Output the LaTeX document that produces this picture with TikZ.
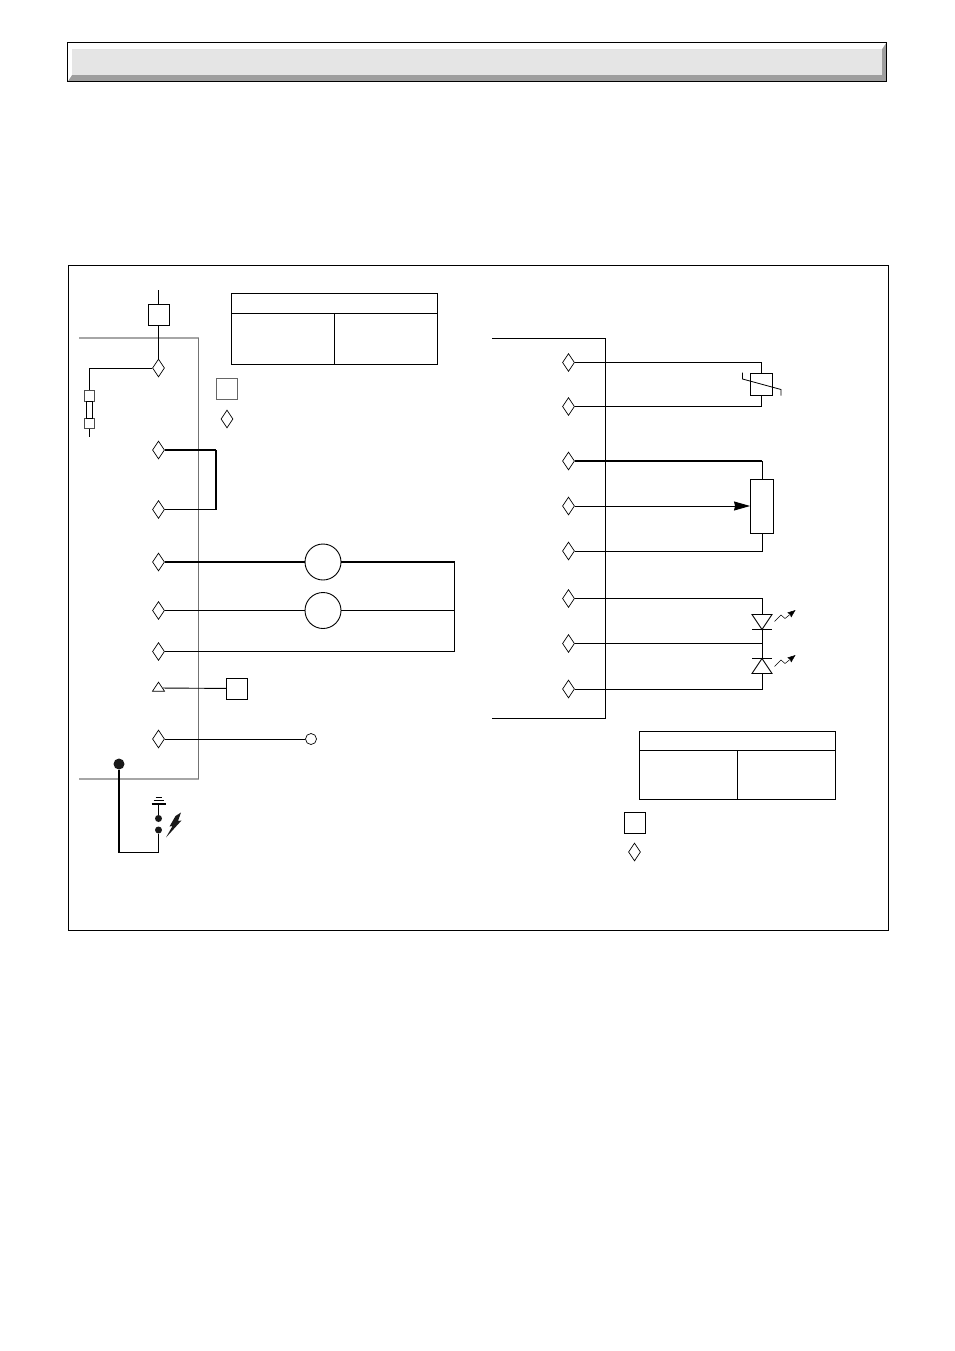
\documentclass[tikz,border=0pt]{standalone}
\usepackage{tikz}
\usetikzlibrary{arrows.meta,shapes,shapes.geometric}
\usetikzlibrary{calc}
\tikzstyle{pin}=[diamond,draw,aspect=0.67,minimum width=12pt,minimum height=18pt,inner sep=0pt,line width=0.7pt]
\tikzstyle{tinybox}=[rectangle,draw,minimum width=21pt,minimum height=21pt,inner sep=0pt,line width=0.8pt]
\tikzstyle{fusecap}=[rectangle,draw,minimum width=10.5pt,minimum height=10.5pt,inner sep=0pt,line width=0.7pt,black!70]
\tikzstyle{motor}=[circle,draw,minimum size=36pt,inner sep=0pt,line width=0.9pt]
\tikzstyle{dot}=[circle,fill=black!90,minimum size=7pt,inner sep=0pt]
\tikzstyle{wire}=[draw,line width=0.9pt]
\tikzstyle{heavywire}=[draw,line width=1.7pt]
\tikzstyle{cell}=[rectangle,draw,inner sep=0pt,line width=0.9pt]
\tikzstyle{module} = [draw,black!55,line width=1pt]

\begin{document}
\begin{tikzpicture}[x=1pt,y=-1pt]
    \useasboundingbox (0,0) rectangle (954,1351);

    % title bar
    \fill[black!38] (68,43) rectangle (886,81);
    \fill[white] (68,43) -- (886,43) -- (882,49) -- (72,49) -- (72,75) -- (68,81) -- cycle;
    \fill[black!10] (72,49) rectangle (882,75);
    \draw[line width=1pt] (67.5,43) rectangle (886.5,81.5);

    % outer frame
    \draw[line width=0.9pt] (68.5,265.5) rectangle (888.5,930.5);

    % left module outline
    \coordinate (lt) at (79,338);
    \coordinate (lc) at (198.5,338);
    \coordinate (ld) at (198.5,779);
    \coordinate (lb) at (79,779);
    \draw[black!35,line width=1.5pt] (lt) -- (lc);
    \draw[black!35,line width=1.5pt] (ld) -- (lb);
    \path[module] (lc) -- (ld);

    % right module outline
    \coordinate (rt) at (492,338);
    \coordinate (rc) at (605.5,338);
    \coordinate (rd) at (605.5,718);
    \coordinate (rb) at (492,718);
    \path[wire] (rt) -- (rc) -- (rd) -- (rb);

    % connector pins
    \foreach \pos/ \name in {{(158.5,368)/l1},{(158.5,450)/l2},{(158.5,509.5)/l3},{(158.5,562)/l4},{(158.5,610.5)/l5},{(158.5,651.5)/l6},{(158.5,739)/l7},{(227,419)/ka}}
        \node[pin,fill=white] (\name) at \pos {};
    \foreach \pos/ \name in {{(568.5,362.5)/r1},{(568.5,406.5)/r2},{(568.5,461)/r3},{(568.5,506)/r4},{(568.5,551)/r5},{(568.5,598.5)/r6},{(568.5,643.5)/r7},{(568.5,689)/r8},{(634.5,852)/kb}}
        \node[pin,fill=white] (\name) at \pos {};
    \node[isosceles triangle,isosceles triangle stretches,shape border rotate=90,draw,line width=0.7pt,minimum width=12pt,minimum height=9pt,inner sep=0pt] (l8) at (158.5,688) {};

    % small boxes
    \node[tinybox] (inbox) at (159,315) {};
    \node[tinybox,black!60] (keya) at (227,388.5) {};
    \node[tinybox] (sensbox) at (237,688.5) {};
    \node[tinybox] (keyb) at (635,822.5) {};
    \coordinate (intop) at (158.5,290);

    % key tables
    \node[cell,minimum width=206pt,minimum height=19.5pt] (heada) at (334.5,303.25) {};
    \node[cell,minimum width=103pt,minimum height=51pt] (cella) at (283,338.5) {};
    \node[cell,minimum width=103pt,minimum height=51pt] (cellb) at (386,338.5) {};
    \node[cell,minimum width=196pt,minimum height=18.5pt] (headb) at (737.5,740.75) {};
    \node[cell,minimum width=98pt,minimum height=49pt] (cellc) at (688.5,774.5) {};
    \node[cell,minimum width=98pt,minimum height=49pt] (celld) at (786.5,774.5) {};

    \path[wire] (intop) -- (intop |- inbox.north);
    \path[wire] (intop |- inbox.south) -- (l1);

    % fuse
    \node[fusecap] (fusea) at (89.5,395.75) {};
    \node[fusecap] (fuseb) at (89.5,423.25) {};
    \node[rectangle,draw,minimum width=6.5pt,minimum height=17pt,inner sep=0pt,line width=0.7pt] (fusec) at (89.5,409.5) {};
    \coordinate (fuseend) at (89.5,437);
    \path[wire] (l1.west) -| (fusea.north);
    \path[wire] (fuseb) -- (fuseend);

    % link
    \coordinate (la) at (216,450);
    \coordinate (lz) at (216,509.5);
    \path[heavywire] (l2.east) -- (la);
    \path[draw,line width=1.5pt] (la) -- (lz);
    \path[wire] (lz) -- (l3.east);

    % motors
    \node[motor] (ma) at (323,562) {};
    \node[motor] (mb) at (323,610.5) {};
    \coordinate (ca) at (454.5,562);
    \coordinate (cb) at (454.5,610.5);
    \coordinate (cc) at (454.5,651.5);
    \path[heavywire] (l4.east) -- (ma);
    \path[heavywire] (ma) -- (ca);
    \path[wire] (l5.east) -- (mb);
    \path[wire] (mb) -- (cb);
    \path[wire] (ca) -- (cc) -- (l6.east);

    \path[wire] (l8) -- (sensbox);
    \node[circle,draw,minimum size=11pt,inner sep=0pt,line width=0.7pt] (probe) at (311,739) {};
    \path[wire] (l7.east) -- (probe);

    % spark and earth
    \node[dot,minimum size=11pt] (earth) at (119,764) {};
    \node[dot] (sparka) at (158.5,818.5) {};
    \node[dot] (sparkb) at (158.5,830) {};
    \coordinate (plug) at (158.5,804);
    \coordinate (ec) at (119,852.5);
    \path[draw,line width=1.6pt] (earth) -- (ec) -| (sparkb);
    \path[draw,line width=1.6pt] (sparka) -- (plug);
    \draw[line width=2pt] (151.5,804) -- (166,804);
    \draw[line width=1.2pt] (153.5,800.5) -- (164,800.5);
    \draw[line width=0.8pt] (155.5,797.5) -- (162,797.5);
    \fill[black!90] (181,812.5) -- (178,821) -- (181.5,820.5) -- (166,837.5) -- (172.5,826) -- (169.5,826.5) -- (175.5,816) -- cycle;

    % thermistor
    \node[rectangle,draw,minimum width=22pt,minimum height=22.5pt,inner sep=0pt,line width=0.9pt] (therm) at (761.5,384.25) {};
    \path[wire] (r1.east) -| (therm.north);
    \path[wire] (r2.east) -| (therm.south);
    \draw[line width=0.8pt] (742.5,372.5) -- (742.5,379) -- (781,389.5) -- (781,395.5);

    % potentiometer
    \node[rectangle,draw,minimum width=23pt,minimum height=54pt,inner sep=0pt,line width=0.9pt] (pot) at (762,506.5) {};
    \path[heavywire] (r3.east) -- (r3.east -| pot.north);
    \path[wire] (r3.east -| pot.north) -- (pot.north);
    \path[wire] (r5.east) -| (pot.south);
    \path[wire,-{Stealth[length=16pt,width=9pt,inset=1pt]}] (r4.east) -- (r4.east -| pot.west);

    % leds
    \coordinate (ledat) at (762,614.5);
    \coordinate (ledab) at (762,629.5);
    \coordinate (ledbt) at (762,658.5);
    \coordinate (ledbb) at (762,673.5);
    \path[wire] (r6.east) -| (ledat);
    \path[wire] (ledab) -- (ledbt);
    \path[wire] (r7.east) -- (r7.east -| ledab);
    \path[wire] (r8.east) -| (ledbb);
    \draw[line width=0.9pt] (752,629.5) -- (772,629.5);
    \draw[line width=0.9pt] (752,614.5) -- (772,614.5) -- (762,629.5) -- cycle;
    \draw[line width=0.9pt] (752,658.5) -- (772,658.5);
    \draw[line width=0.9pt] (752,673.5) -- (772,673.5) -- (762,658.5) -- cycle;
    \foreach \dy in {0,45}
        \draw[line width=0.5pt,-{Stealth[length=8pt,width=6pt,inset=1pt]}] (774.5,621.5+\dy) -- (781,615+\dy) -- (785,618.5+\dy) -- (795.5,610+\dy);

\end{tikzpicture}
\end{document}
